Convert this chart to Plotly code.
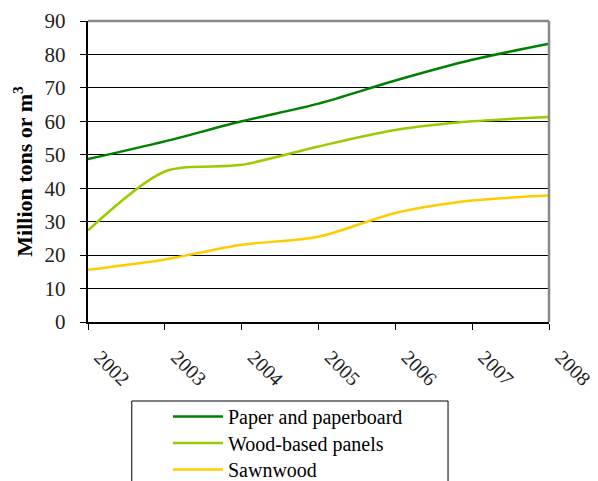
import plotly.graph_objects as go

years = ["2002", "2003", "2004", "2005", "2006", "2007", "2008"]
paper = [48.7, 54.0, 60.0, 65.3, 72.2, 78.4, 83.2]
panels = [27.4, 45.0, 47.0, 52.5, 57.4, 60.0, 61.3]
sawnwood = [15.6, 18.7, 23.1, 25.5, 32.6, 36.3, 37.8]

series_names = ["Paper and paperboard", "Wood-based panels", "Sawnwood"]
colors = ["#008000", "#99CC00", "#FFCC00"]

FONT = "'Liberation Serif', 'DejaVu Serif', serif"

fig = go.Figure()
legend_ids = ["legend", "legend2", "legend3"]
for name, vals, col, lg in zip(series_names, [paper, panels, sawnwood], colors, legend_ids):
    fig.add_trace(go.Scatter(
        x=list(range(len(years))), y=vals, mode="lines", name=name, legend=lg,
        line=dict(color=col, width=2.5, shape="spline", smoothing=0.8),
    ))

# one legend per entry so the row spacing can follow the reference
legend_style = dict(
    x=0.1735, xanchor="left", yanchor="top",
    font=dict(family=FONT, size=20, color="#000"),
    bgcolor="rgba(0,0,0,0)", borderwidth=0, itemwidth=50,
)

# page body adds an 8px offset, so margins are shifted to compensate
fig.update_layout(
    width=598, height=481,
    margin=dict(l=80, r=57, t=13, b=167, autoexpand=False),
    paper_bgcolor="white", plot_bgcolor="white",
    font=dict(family=FONT, size=18, color="#222"),
    showlegend=True,
    legend=dict(legend_style, y=-0.249),
    legend2=dict(legend_style, y=-0.337),
    legend3=dict(legend_style, y=-0.425),
    xaxis=dict(
        range=[0, len(years) - 1], automargin=False,
        tickmode="array", tickvals=list(range(len(years))), ticktext=years,
        tickangle=45, ticks="outside", ticklen=6, tickcolor="#000",
        ticklabelstandoff=8, ticklabelshift=12,
        showline=True, linecolor="#000", linewidth=1.5, mirror=False,
        showgrid=False, zeroline=False,
        tickfont=dict(family=FONT, size=20, color="#222"),
    ),
    yaxis=dict(
        range=[0, 90], dtick=10, ticks="outside", ticklen=6, tickcolor="#000",
        ticksuffix="  ",
        showline=True, linecolor="#000", linewidth=1.5, automargin=False,
        showgrid=True, gridcolor="#000", gridwidth=1, zeroline=False,
        tickfont=dict(family=FONT, size=21, color="#222"),
        title=dict(text="<b>Million tons or m<sup>3</sup></b>",
                   font=dict(family=FONT, size=22, color="#000"), standoff=6),
    ),
    shapes=[
        # grey frame on top and right of plot area
        dict(type="line", xref="paper", yref="paper", x0=0, x1=1, y0=1, y1=1,
             line=dict(color="#888", width=2.5)),
        dict(type="line", xref="paper", yref="paper", x0=1, x1=1, y0=0, y1=1,
             line=dict(color="#888", width=2.5)),
        # legend box
        dict(type="rect", xref="paper", yref="paper", x0=0.095, x1=0.781,
             y0=-0.6, y1=-0.2625, line=dict(color="#000", width=1)),
    ],
)

fig.write_html("out.html")
